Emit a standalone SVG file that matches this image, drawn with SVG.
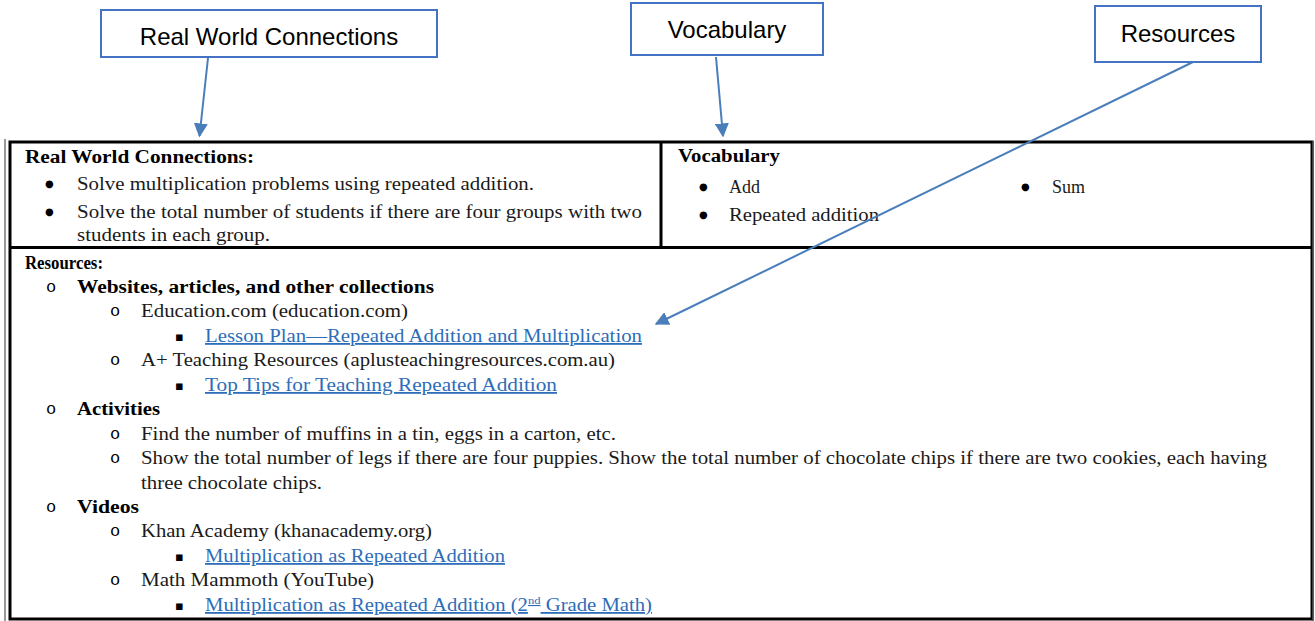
<svg xmlns="http://www.w3.org/2000/svg" width="1315" height="621" viewBox="0 0 1315 621">
<style>
.box{fill:#fff;stroke:#4472C4;stroke-width:2}
.lbl{font-family:"Liberation Sans",Arial,sans-serif;font-size:24px;fill:#000;text-anchor:middle}
.t{font-family:"Liberation Serif","Times New Roman",serif;font-size:18px;fill:#1a1a1a}
.b{font-weight:bold;fill:#000}
.lk{fill:#2E6DB8;text-decoration:underline}
.dot{font-family:"DejaVu Sans",sans-serif;font-size:10px;fill:#000}
.o{font-family:"Liberation Mono","Courier New",monospace;font-size:17px;fill:#000}
.sq{font-family:"DejaVu Sans",sans-serif;font-size:13px;fill:#000}
.frame{fill:none;stroke:#000;stroke-width:3}
.con{stroke:#4A7EBB;stroke-width:2;fill:none}
</style>
<defs>
<marker id="ah" viewBox="0 0 10 10" refX="9" refY="5" markerWidth="7" markerHeight="7" markerUnits="strokeWidth" orient="auto">
<path d="M0,0 L10,5 L0,10 z" fill="#4A7EBB"/>
</marker>
</defs>
<rect width="1315" height="621" fill="#fff"/>

<g id="table">
<line x1="5" y1="139" x2="5" y2="621" stroke="#777" stroke-width="1.5"/>
<rect class="frame" x="10" y="142" width="1302" height="477"/>
<line x1="1313" y1="141" x2="1313" y2="621" stroke="#555" stroke-width="1.5"/>
<line x1="10" y1="247.5" x2="1312" y2="247.5" stroke="#000" stroke-width="3"/>
<line x1="661" y1="142" x2="661" y2="247" stroke="#000" stroke-width="3"/>
</g>

<g id="cell-rwc">
<text class="t b" x="25" y="163" textLength="229" lengthAdjust="spacingAndGlyphs">Real World Connections:</text>
<text class="dot" x="45" y="187">●</text>
<text class="t" x="77" y="190" textLength="457" lengthAdjust="spacingAndGlyphs">Solve multiplication problems using repeated addition.</text>
<text class="dot" x="45" y="215">●</text>
<text class="t" x="77" y="218" textLength="565" lengthAdjust="spacingAndGlyphs">Solve the total number of students if there are four groups with two</text>
<text class="t" x="77" y="241" textLength="193" lengthAdjust="spacingAndGlyphs">students in each group.</text>
</g>

<g id="cell-vocab">
<text class="t b" x="678" y="162" textLength="102" lengthAdjust="spacingAndGlyphs">Vocabulary</text>
<text class="dot" x="699" y="190">●</text>
<text class="t" x="729" y="193">Add</text>
<text class="dot" x="1021" y="190">●</text>
<text class="t" x="1052" y="193">Sum</text>
<text class="dot" x="699" y="218">●</text>
<text class="t" x="729" y="221" textLength="150" lengthAdjust="spacingAndGlyphs">Repeated addition</text>
</g>

<g id="cell-resources">
<text class="t b" x="25" y="269" textLength="78" lengthAdjust="spacingAndGlyphs">Resources:</text>
<text class="o" x="46" y="292">o</text>
<text class="t b" x="77" y="293" textLength="357" lengthAdjust="spacingAndGlyphs">Websites, articles, and other collections</text>
<text class="o" x="110" y="316">o</text>
<text class="t" x="141" y="317" textLength="267" lengthAdjust="spacingAndGlyphs">Education.com (education.com)</text>
<text class="sq" x="175" y="341">▪</text>
<text class="t lk" x="205" y="342" textLength="437" lengthAdjust="spacingAndGlyphs">Lesson Plan—Repeated Addition and Multiplication</text>
<text class="o" x="110" y="365">o</text>
<text class="t" x="141" y="366" textLength="474" lengthAdjust="spacingAndGlyphs">A+ Teaching Resources (aplusteachingresources.com.au)</text>
<text class="sq" x="175" y="390">▪</text>
<text class="t lk" x="205" y="391" textLength="352" lengthAdjust="spacingAndGlyphs">Top Tips for Teaching Repeated Addition</text>
<text class="o" x="46" y="414">o</text>
<text class="t b" x="77" y="415" textLength="83" lengthAdjust="spacingAndGlyphs">Activities</text>
<text class="o" x="110" y="439">o</text>
<text class="t" x="141" y="440" textLength="475" lengthAdjust="spacingAndGlyphs">Find the number of muffins in a tin, eggs in a carton, etc.</text>
<text class="o" x="110" y="463">o</text>
<text class="t" x="141" y="464" textLength="1126" lengthAdjust="spacingAndGlyphs">Show the total number of legs if there are four puppies. Show the total number of chocolate chips if there are two cookies, each having</text>
<text class="t" x="141" y="489" textLength="181" lengthAdjust="spacingAndGlyphs">three chocolate chips.</text>
<text class="o" x="46" y="512">o</text>
<text class="t b" x="77" y="513" textLength="62" lengthAdjust="spacingAndGlyphs">Videos</text>
<text class="o" x="110" y="536">o</text>
<text class="t" x="141" y="537" textLength="291" lengthAdjust="spacingAndGlyphs">Khan Academy (khanacademy.org)</text>
<text class="sq" x="175" y="561">▪</text>
<text class="t lk" x="205" y="562" textLength="300" lengthAdjust="spacingAndGlyphs">Multiplication as Repeated Addition</text>
<text class="o" x="110" y="585">o</text>
<text class="t" x="141" y="586" textLength="233" lengthAdjust="spacingAndGlyphs">Math Mammoth (YouTube)</text>
<text class="sq" x="175" y="610">▪</text>
<text class="t lk" x="205" y="611" textLength="447" lengthAdjust="spacingAndGlyphs">Multiplication as Repeated Addition (2<tspan font-size="11" dy="-7">nd</tspan><tspan dy="7"> Grade Math)</tspan></text>
</g>

<g id="callout-rwc">
<rect class="box" x="101" y="10" width="336" height="47"/>
<text class="lbl" x="269" y="45">Real World Connections</text>
</g>
<g id="callout-vocab">
<rect class="box" x="631" y="3" width="192" height="52"/>
<text class="lbl" x="727" y="38">Vocabulary</text>
</g>
<g id="callout-resources">
<rect class="box" x="1095" y="6" width="166" height="56"/>
<text class="lbl" x="1178" y="42">Resources</text>
</g>

<g id="connectors">
<line class="con" x1="208" y1="58" x2="199.5" y2="136" marker-end="url(#ah)"/>
<line class="con" x1="716" y1="57" x2="723" y2="136" marker-end="url(#ah)"/>
<line class="con" x1="1193" y1="62" x2="656" y2="324" marker-end="url(#ah)"/>
</g>
</svg>
